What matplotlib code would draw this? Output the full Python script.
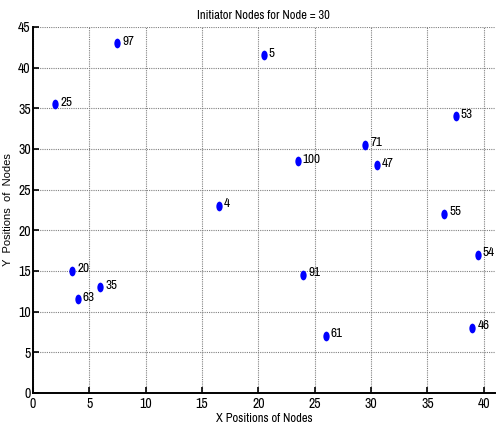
import matplotlib
matplotlib.use("Agg")
import matplotlib.pyplot as plt
from matplotlib.path import Path
from matplotlib.transforms import Affine2D

# ── Node data ─────────────────────────────────────────────────────────────────

node_ids = [97, 25, 4, 5, 53, 71, 100, 47, 55, 20, 35, 63, 54, 91, 61, 46]
x_pos    = [7.5, 2, 16.5, 20.5, 37.5, 29.5, 23.5, 30.5, 36.5, 3.5, 6, 4, 39.5, 24, 26, 39]
y_pos    = [43, 35.5, 23, 41.5, 34, 30.5, 28.5, 28, 22, 15, 13, 11.5, 17, 14.5, 7, 8]

x_ticks = [0, 5, 10, 15, 20, 25, 30, 35, 40]
y_ticks = [0, 5, 10, 15, 20, 25, 30, 35, 40, 45]

narrow = ["Archivo Narrow", "Roboto Condensed", "DejaVu Sans"]

# slightly tall elliptical marker
ellipse = Path.unit_circle().transformed(Affine2D().scale(0.65, 1.0))

fig = plt.figure(figsize=(4.97, 4.34), dpi=100)
ax = fig.add_axes([0.066, 0.0945, 0.93, 0.8435])

ax.plot(x_pos, y_pos, linestyle="none", marker=ellipse, color="#0000ff",
        markersize=7, markeredgewidth=0)
for nid, x, y in zip(node_ids, x_pos, y_pos):
    ax.annotate(str(nid), (x, y), xytext=(3.5, 1.5), textcoords="offset points",
                fontsize=9.5, family=narrow, va="center")

ax.set_xlim(0, 41)
ax.set_ylim(0, 45)
ax.set_xticks(x_ticks)
ax.set_yticks(y_ticks)
ax.tick_params(direction="in", length=4, labelsize=10, width=1.2, pad=3)
ax.tick_params(axis="y", pad=1.5)
for lbl in ax.get_xticklabels() + ax.get_yticklabels():
    lbl.set_family(narrow)

ax.grid(True, color="#808080", linestyle=(0, (1, 1)), linewidth=0.8)
ax.spines["top"].set_visible(False)
ax.spines["right"].set_visible(False)
ax.spines["left"].set_linewidth(1.4)
ax.spines["bottom"].set_linewidth(1.4)

ax.set_title("Initiator Nodes for Node = 30", fontsize=9, family=narrow, pad=6)
ax.set_xlabel("X Positions of Nodes", fontsize=9, family=narrow, labelpad=1)
ax.set_ylabel("Y  Positions  of  Nodes", fontsize=8, family="Liberation Sans", labelpad=4)

plt.savefig("out.png")
plt.close()
